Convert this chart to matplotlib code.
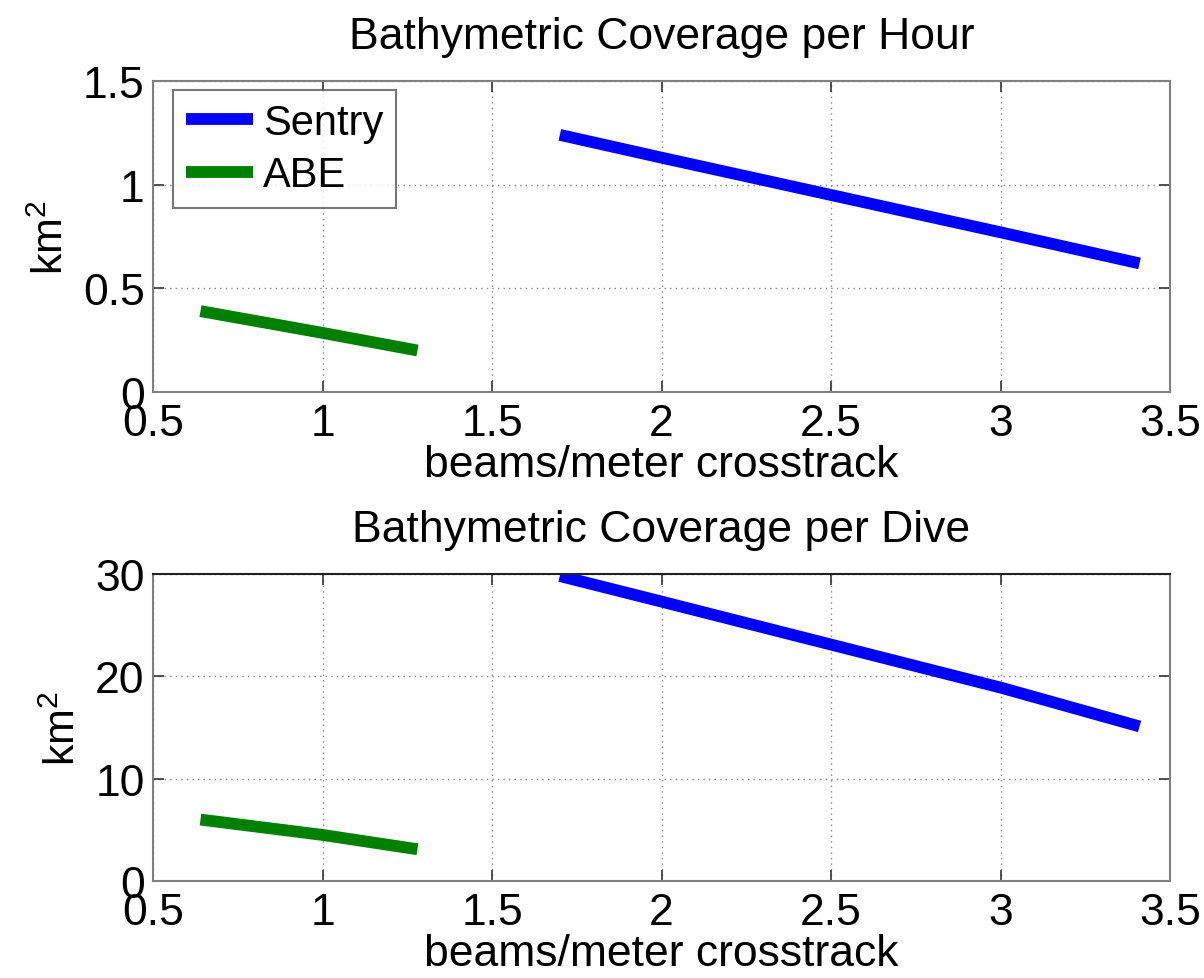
import numpy as np
import matplotlib
matplotlib.use('Agg')
import matplotlib.pyplot as plt

plt.rcParams['font.family'] = ['Liberation Sans', 'DejaVu Sans']
plt.rcParams['mathtext.fontset'] = 'custom'
plt.rcParams['mathtext.rm'] = 'Liberation Sans'

# beams/meter crosstrack vs coverage (km^2)
sentry_x = [1.70, 2.0, 2.5, 3.0, 3.41]
sentry_hour = [1.24, 1.13, 0.95, 0.77, 0.62]
sentry_dive = [29.8, 27.3, 23.1, 18.9, 15.1]

abe_x = [0.64, 1.0, 1.28]
abe_hour = [0.39, 0.285, 0.2]
abe_dive = [6.0, 4.5, 3.1]

x_ticks = [0.5, 1, 1.5, 2, 2.5, 3, 3.5]
x_tick_labels = ['0.5', '1', '1.5', '2', '2.5', '3', '3.5']
hour_ticks = [0, 0.5, 1, 1.5]
hour_tick_labels = ['0', '0.5', '1', '1.5']
dive_ticks = [0, 10, 20, 30]
dive_tick_labels = ['0', '10', '20', '30']

fig = plt.figure(figsize=(12.04, 9.79), dpi=100)
ax1 = fig.add_axes([0.1271, 0.5986, 0.8447, 0.3177])
ax2 = fig.add_axes([0.1271, 0.0991, 0.8447, 0.3136])

lw = 8.5
fs = 32


def style(ax, yticks, ylabels, ylim):
    ax.set_xlim(0.5, 3.5)
    ax.set_ylim(*ylim)
    ax.set_xticks(x_ticks)
    ax.set_xticklabels(x_tick_labels)
    ax.set_yticks(yticks)
    ax.set_yticklabels(ylabels)
    ax.tick_params(direction='in', length=8, width=1.2, top=True, right=True,
                   labelsize=fs, colors='#333333', labelcolor='black')
    ax.tick_params(axis='x', pad=8)
    ax.tick_params(axis='y', pad=6)
    ax.grid(True, linestyle=(0, (1, 3)), color='#888888', linewidth=1)
    for s in ax.spines.values():
        s.set_color('#808080')
        s.set_linewidth(1.5)
    ax.set_xlabel('beams/meter crosstrack', fontsize=fs, labelpad=0)
    ax.set_ylabel('km$^2$', fontsize=31, labelpad=8)


ax1.plot(sentry_x, sentry_hour, color='#0000ff', linewidth=lw,
         solid_capstyle='butt', label='Sentry')
ax1.plot(abe_x, abe_hour, color='#008000', linewidth=lw,
         solid_capstyle='butt', label='ABE')
style(ax1, hour_ticks, hour_tick_labels, (0, 1.5))
ax1.set_title('Bathymetric Coverage per Hour', fontsize=fs, pad=24)
leg = ax1.legend(loc='upper left', bbox_to_anchor=(0.02, 0.97), fontsize=30,
                 frameon=True, fancybox=False, handlelength=1.6,
                 handletextpad=0.25, borderpad=0.3, labelspacing=0.3,
                 borderaxespad=0)
leg.get_frame().set_edgecolor('#555555')
leg.get_frame().set_linewidth(1.5)

ax2.plot(sentry_x, sentry_dive, color='#0000ff', linewidth=lw,
         solid_capstyle='butt')
ax2.plot(abe_x, abe_dive, color='#008000', linewidth=lw,
         solid_capstyle='butt')
style(ax2, dive_ticks, dive_tick_labels, (0, 30))
ax2.spines['top'].set_color('#222222')
ax2.set_title('Bathymetric Coverage per Dive', fontsize=fs, pad=24)

plt.savefig('out.png', dpi=100)
